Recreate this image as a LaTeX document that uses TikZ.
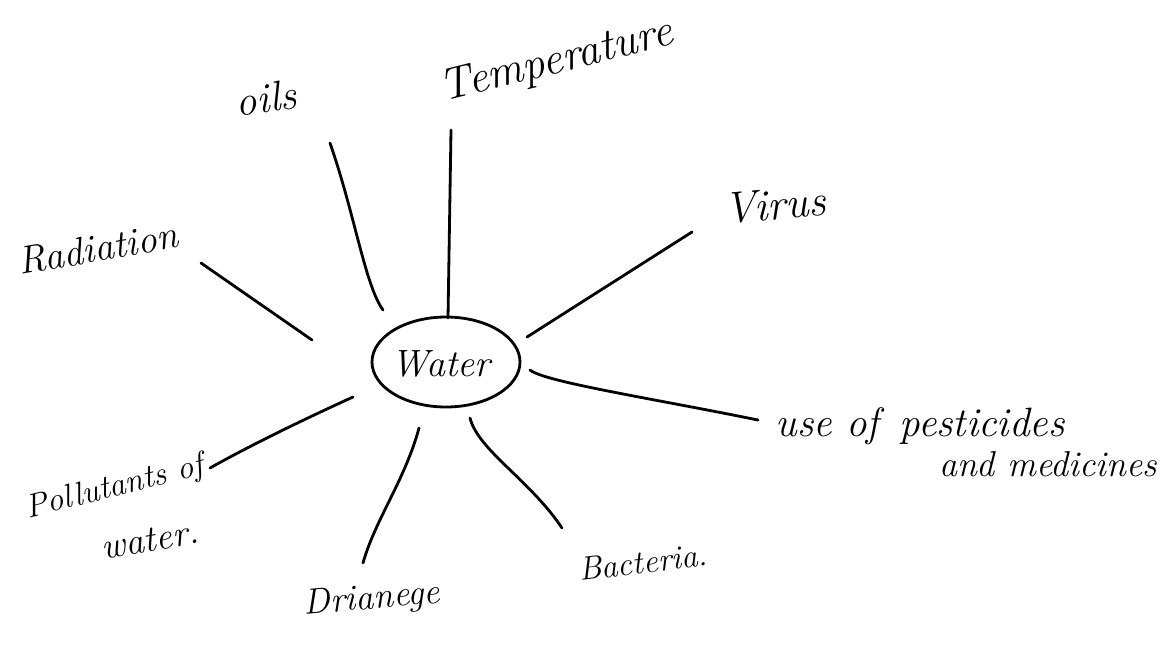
\documentclass[tikz,border=0pt]{standalone}
\usetikzlibrary{shapes.geometric}
\begin{document}
\begin{tikzpicture}[x=1pt,y=-1pt,
  conn/.style={line width=2.8pt,line cap=round},
  lbl/.style={inner sep=0pt,font=\itshape\fontsize{34}{40}\selectfont},
  hub/.style={draw,ellipse,line width=2.8pt,minimum width=148pt,minimum height=90pt}]
\useasboundingbox (0,0) rectangle (1174,662);
\fill[white] (0,0) rectangle (1174,662);
% centre
\node[hub] (hubshape) at (446,362) {};
\node[lbl,font=\itshape\fontsize{38}{44}\selectfont] (water) at (441,364) {Water};
% labels
\node[lbl,rotate=8,font=\itshape\fontsize{42}{48}\selectfont] (oils) at (266,98) {oils};
\node[lbl,rotate=14,font=\itshape\fontsize{45}{52}\selectfont] (temp) at (557,62) {Temperature};
\node[lbl,rotate=10,font=\itshape\fontsize{39}{46}\selectfont] (rad) at (98,248) {Radiation};
\node[lbl,rotate=5,font=\itshape\fontsize{44}{50}\selectfont] (virus) at (775,205) {Virus};
\node[lbl,font=\itshape\fontsize{41}{48}\selectfont] (pest) at (920,426) {use of\enspace pesticides};
\node[lbl,font=\itshape\fontsize{36}{42}\selectfont] (med) at (1048,464) {and medicines};
\node[lbl,rotate=14,font=\itshape\fontsize{33}{38}\selectfont] (poll) at (115,488) {Pollutants of};
\node[lbl,rotate=10,font=\itshape\fontsize{37}{42}\selectfont] (pollw) at (150,540) {water.};
\node[lbl,rotate=5,font=\itshape\fontsize{36}{42}\selectfont] (drain) at (372,600) {Drianege};
\node[lbl,rotate=7,font=\itshape\fontsize{33}{38}\selectfont] (bact) at (643,562) {Bacteria.};
% connector end points
\coordinate (oilsA) at (330,143);  \coordinate (oilsB) at (383,310);
\coordinate (tempA) at (451,130);  \coordinate (tempB) at (448,318);
\coordinate (radA) at (201,263);   \coordinate (radB) at (312,340);
\coordinate (virA) at (692,232);   \coordinate (virB) at (527,337);
\coordinate (pestA) at (758,420);  \coordinate (pestB) at (530,370);
\coordinate (pollA) at (210,468);  \coordinate (pollB) at (353,397);
\coordinate (drA) at (363,563);    \coordinate (drB) at (419,428);
\coordinate (baA) at (562,528);    \coordinate (baB) at (470,418);
% connectors
\draw[conn] (oilsA) .. controls (355,215) and (365,285) .. (oilsB);
\draw[conn] (tempA) -- (tempB);
\draw[conn] (radA) -- (radB);
\draw[conn] (virA) -- (virB);
\draw[conn] (pestA) .. controls (650,398) and (545,382) .. (pestB);
\draw[conn] (pollA) .. controls (260,440) and (320,412) .. (pollB);
\draw[conn] (drA) .. controls (375,520) and (405,480) .. (drB);
\draw[conn] (baA) .. controls (530,480) and (478,450) .. (baB);
\end{tikzpicture}
\end{document}
